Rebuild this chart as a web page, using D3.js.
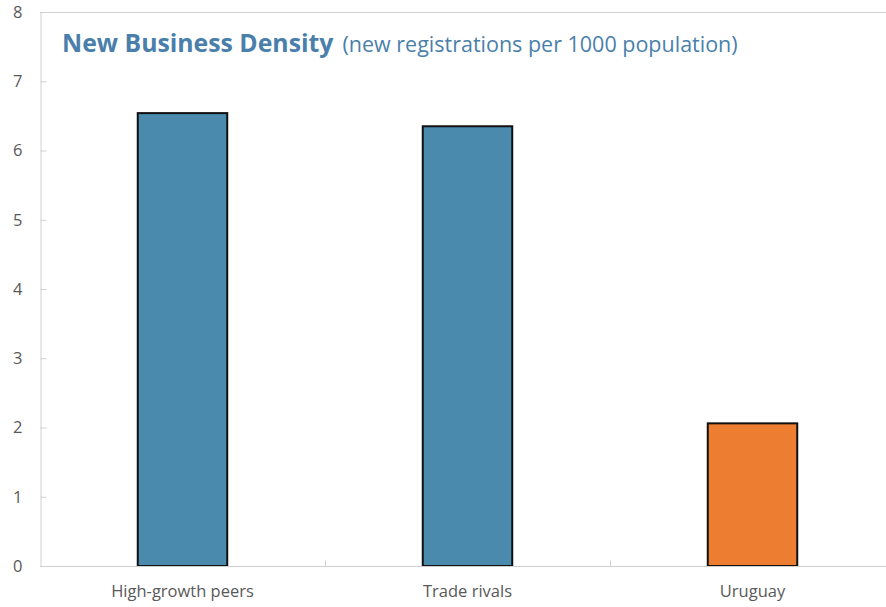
<!DOCTYPE html>
<html>
<head>
<meta charset="utf-8">
<script src="https://cdn.jsdelivr.net/npm/d3@7"></script>
<style>
  html, body { margin: 0; padding: 0; background: #fff; }
  svg { display: block; }
</style>
</head>
<body>
<div id="chart"></div>
<script>
// New business density by group
const categories = ["High-growth peers", "Trade rivals", "Uruguay"];
const values = [6.54, 6.35, 2.06];
const barColors = ["#4a8aad", "#4a8aad", "#ed7d31"];
const yTicks = [0, 1, 2, 3, 4, 5, 6, 7, 8];

const W = 886, H = 607;
const margin = { left: 40, top: 12, bottom: 41 };
const plotRight = 895; // plot runs past the right edge of the frame

const svg = d3.select("#chart").append("svg")
  .attr("width", W).attr("height", H);

const x = d3.scaleBand().domain(categories)
  .range([margin.left, plotRight]).paddingInner(0).paddingOuter(0);
const y = d3.scaleLinear().domain([0, 8]).range([H - margin.bottom, margin.top]);

const axisColor = "#d0d0d0";
const labelColor = "#595959";
const font = "'Open Sans', 'Noto Sans', sans-serif";

// top frame line
svg.append("line")
  .attr("x1", margin.left).attr("x2", W)
  .attr("y1", y(8) + 0.5).attr("y2", y(8) + 0.5)
  .attr("stroke", axisColor).attr("stroke-width", 1);

// y axis
const yAxis = svg.append("g")
  .attr("transform", `translate(${margin.left + 0.5},0)`)
  .call(d3.axisRight(y).tickValues(yTicks).tickSize(6).tickFormat(d3.format("d")));
yAxis.select(".domain").attr("stroke", axisColor);
yAxis.selectAll(".tick line").attr("stroke", axisColor);
yAxis.selectAll(".tick text")
  .attr("x", -18).attr("text-anchor", "end")
  .attr("fill", labelColor)
  .style("font-family", font).style("font-size", "16.5px");

// bars
const barW = x.bandwidth() * 0.314;
svg.append("g").selectAll("rect")
  .data(categories)
  .join("rect")
  .attr("x", (d) => x(d) + (x.bandwidth() - barW) / 2)
  .attr("y", (d, i) => y(values[i]))
  .attr("width", barW)
  .attr("height", (d, i) => y(0) - y(values[i]))
  .attr("fill", (d, i) => barColors[i])
  .attr("stroke", "#111")
  .attr("stroke-width", 2);

// x axis baseline and category separators
const baseY = y(0) + 0.5;
svg.append("line")
  .attr("x1", margin.left).attr("x2", W)
  .attr("y1", baseY).attr("y2", baseY)
  .attr("stroke", axisColor);
svg.append("g").selectAll("line")
  .data(categories.slice(1))
  .join("line")
  .attr("x1", (d) => Math.round(x(d)) + 0.5)
  .attr("x2", (d) => Math.round(x(d)) + 0.5)
  .attr("y1", baseY).attr("y2", baseY - 6)
  .attr("stroke", axisColor);

// category labels
svg.append("g").selectAll("text")
  .data(categories)
  .join("text")
  .attr("x", (d) => x(d) + x.bandwidth() / 2)
  .attr("y", y(0) + 31)
  .attr("text-anchor", "middle")
  .attr("fill", labelColor)
  .style("font-family", font).style("font-size", "16.5px")
  .text((d) => d);

// title
const title = svg.append("text")
  .attr("x", 62).attr("y", 52)
  .style("font-family", font)
  .attr("fill", "#4a7fab");
title.append("tspan")
  .style("font-weight", "700").style("font-size", "24.8px")
  .text("New Business Density");
title.append("tspan")
  .attr("dx", 9)
  .style("font-weight", "400").style("font-size", "21.5px")
  .text("(new registrations per 1000 population)");
</script>
</body>
</html>
